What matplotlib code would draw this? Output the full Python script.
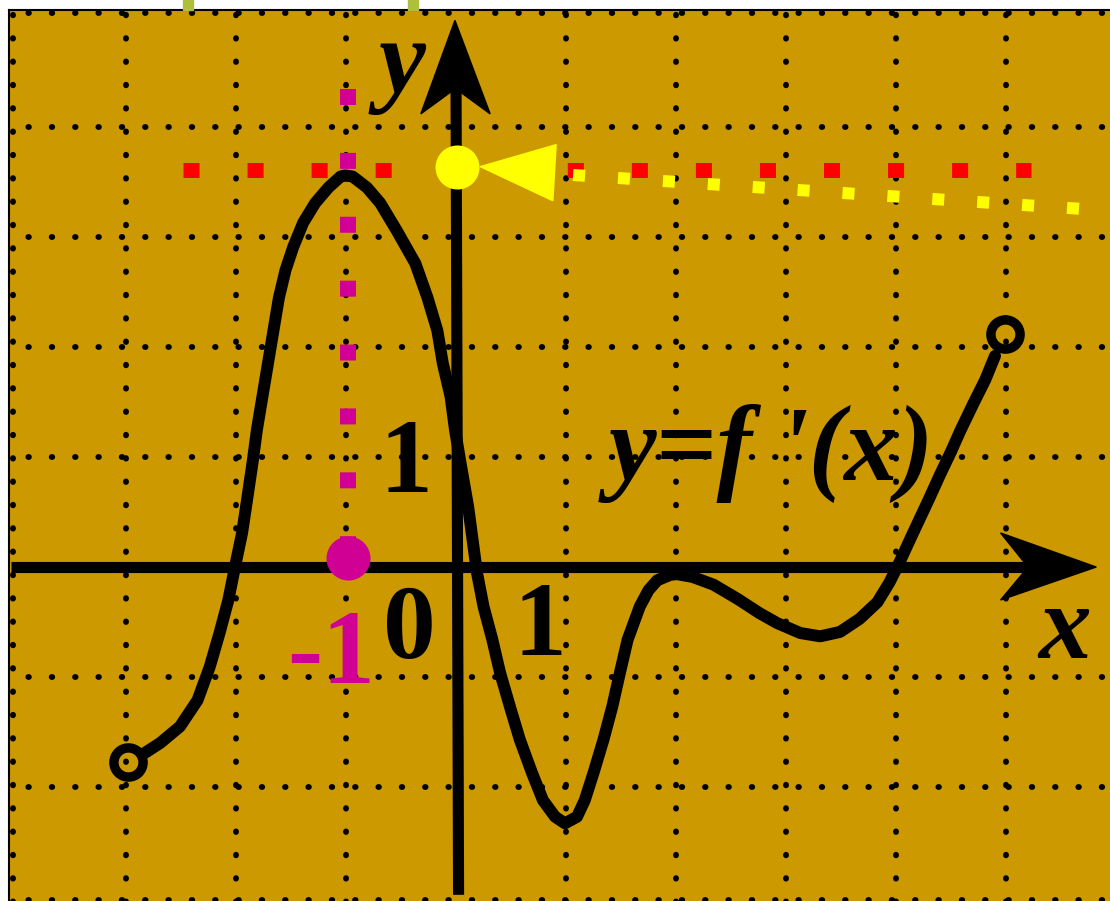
import numpy as np
import matplotlib.pyplot as plt
from matplotlib.patches import Polygon

# curve y = f'(x) (1 unit = 110 px)
curve_x = [-2.83, -2.69, -2.51, -2.35, -2.24, -2.15, -2.07, -2.01, -1.945, -1.90,
           -1.85, -1.81, -1.76, -1.71, -1.66, -1.61, -1.55, -1.48, -1.39, -1.28,
           -1.16, -1.05, -1.01, -0.94, -0.81, -0.69, -0.54, -0.37, -0.26, -0.17,
           -0.12, -0.05, -0.01, 0.04, 0.075, 0.11, 0.15, 0.19, 0.25, 0.33,
           0.40, 0.49, 0.58, 0.69, 0.79, 0.90, 0.99, 1.10, 1.17, 1.25,
           1.34, 1.42, 1.49, 1.56, 1.67, 1.75, 1.83, 1.95, 2.01, 2.15,
           2.34, 2.56, 2.76, 2.92, 3.13, 3.31, 3.49, 3.67, 3.83, 3.94,
           4.03, 4.15, 4.30, 4.40, 4.50, 4.58, 4.70, 4.81, 4.90]
curve_y = [-1.69, -1.60, -1.45, -1.21, -0.91, -0.60, -0.30, 0.0, 0.31, 0.61,
           0.95, 1.25, 1.55, 1.85, 2.15, 2.45, 2.70, 2.91, 3.13, 3.31,
           3.45, 3.55, 3.56, 3.55, 3.45, 3.31, 3.06, 2.76, 2.45, 2.15,
           1.85, 1.55, 1.25, 0.95, 0.75, 0.55, 0.25, -0.05, -0.36, -0.66,
           -0.96, -1.27, -1.57, -1.87, -2.12, -2.27, -2.33, -2.27, -2.12, -1.87,
           -1.57, -1.27, -0.96, -0.66, -0.36, -0.21, -0.12, -0.07, -0.065, -0.09,
           -0.16, -0.29, -0.42, -0.51, -0.60, -0.63, -0.59, -0.47, -0.32, -0.14,
           0.04, 0.30, 0.62, 0.84, 1.05, 1.23, 1.48, 1.70, 1.92]
open_ends_x = [-2.98, 4.99]
open_ends_y = [-1.77, 2.12]

grid_x = [-4.03, -3, -2, -1, 1, 2, 3, 4, 5]
grid_y = [5.04, 4, 3, 2, 1, -1, -2, -3.03]

# helper marks
red_y = 3.61
red_x = [-2.48, 5.23]
magenta_x = -0.98
magenta_y = [4.345, 0.13]
magenta_dot = (-0.98, 0.08)
yellow_dot = (0.01, 3.64)
yellow_tri_x = [0.22, 0.91, 0.88]
yellow_tri_y = [3.64, 3.84, 3.33]
yellow_line_x = [1.064, 6.3]
yellow_line_y = [3.564, 3.215]

gold = '#CC9900'
magenta = '#D10094'
serif = ['Liberation Serif', 'DejaVu Serif']

fig = plt.figure(figsize=(11.1, 9.01), dpi=100)
fig.patch.set_facecolor('white')
ax = fig.add_axes([9 / 1110, 0, 1101 / 1110, 891 / 901])
ax.set_facecolor(gold)
ax.set_xlim(-4.064, 5.945)
ax.set_ylim(-3.036, 5.064)
ax.set_xticks([])
ax.set_yticks([])
for s in ['right', 'bottom']:
    ax.spines[s].set_visible(False)
for s in ['left', 'top']:
    ax.spines[s].set_linewidth(1.5)

# dotted grid
for gx in grid_x:
    ax.plot([gx, gx], [-3.1, 5.1], color='black', lw=4.2, ls=(0, (0.1, 3.9)),
            dash_capstyle='round', zorder=1)
for gy in grid_y:
    ax.plot([-4.1, 6.0], [gy, gy], color='black', lw=4.2, ls=(0, (0.1, 3.9)),
            dash_capstyle='round', zorder=1)

# red dotted level line
ax.plot(red_x, [red_y, red_y], color='#FF0000', lw=10.8, ls=(0, (1.07, 3.2)),
        dash_capstyle='butt', zorder=3)

# axes with arrows
ax.plot([-4.05, 5.2], [0, 0], color='black', lw=8, solid_capstyle='butt', zorder=4)
ax.add_patch(Polygon([[5.82, 0], [4.95, 0.31], [5.2, 0], [4.95, -0.30]],
                     closed=True, color='black', zorder=4))
ax.plot([0.023, 0.0], [-2.98, 4.36], color='black', lw=8, solid_capstyle='butt', zorder=4)
ax.add_patch(Polygon([[-0.01, 4.97], [0.31, 4.12], [-0.005, 4.35], [-0.32, 4.12]],
                     closed=True, color='black', zorder=4))

# the curve
ax.plot(curve_x, curve_y, color='black', lw=8.6, solid_joinstyle='round',
        solid_capstyle='round', zorder=5)
ax.plot(open_ends_x, open_ends_y, ls='none', marker='o', ms=21, mfc='none',
        mec='black', mew=6.8, zorder=5)

# magenta dotted vertical + dot
ax.plot([magenta_x, magenta_x], magenta_y, color=magenta, lw=11.5, ls=(0, (1, 3)),
        dash_capstyle='butt', zorder=6)
ax.plot(*magenta_dot, marker='o', ms=31.7, color=magenta, mec='none', zorder=7)

# yellow pointer
ax.plot(*yellow_dot, marker='o', ms=31.7, color='#FFFF00', mec='none', zorder=7)
ax.add_patch(Polygon(np.column_stack([yellow_tri_x, yellow_tri_y]), closed=True,
                     color='#FFFF00', zorder=7))
ax.plot(yellow_line_x, yellow_line_y, color='#FFFF00', lw=8.64, ls=(0, (1, 2.75)),
        dash_capstyle='butt', zorder=7)

# labels
txt = dict(family=serif, fontsize=76, fontweight='bold', zorder=8)
ax.text(-0.49, 4.32, 'y', style='italic', ha='center', va='baseline', **txt)
ax.text(5.53, -0.83, 'x', style='italic', ha='center', va='baseline', **txt)
ax.text(-0.46, 0.68, '1', ha='center', va='baseline', **txt)
ax.text(-0.42, -0.83, '0', ha='center', va='baseline', **txt)
ax.text(0.76, -0.80, '1', ha='center', va='baseline', **txt)
ax.text(-1.14, -1.05, '-1', ha='center', va='baseline', color=magenta, **txt)
ax.text(1.39, 0.79, "y=f '(x)", style='italic', ha='left', va='baseline',
        family=serif, fontsize=77, fontweight='bold', zorder=8)

# olive bits peeking above the frame
for bx in [183, 408]:
    fig.patches.append(plt.Rectangle((bx / 1110, 891 / 901), 10 / 1110, 10 / 901,
                                     transform=fig.transFigure, color='#AEBF3C',
                                     zorder=0))

fig.savefig('out.png', dpi=100)
